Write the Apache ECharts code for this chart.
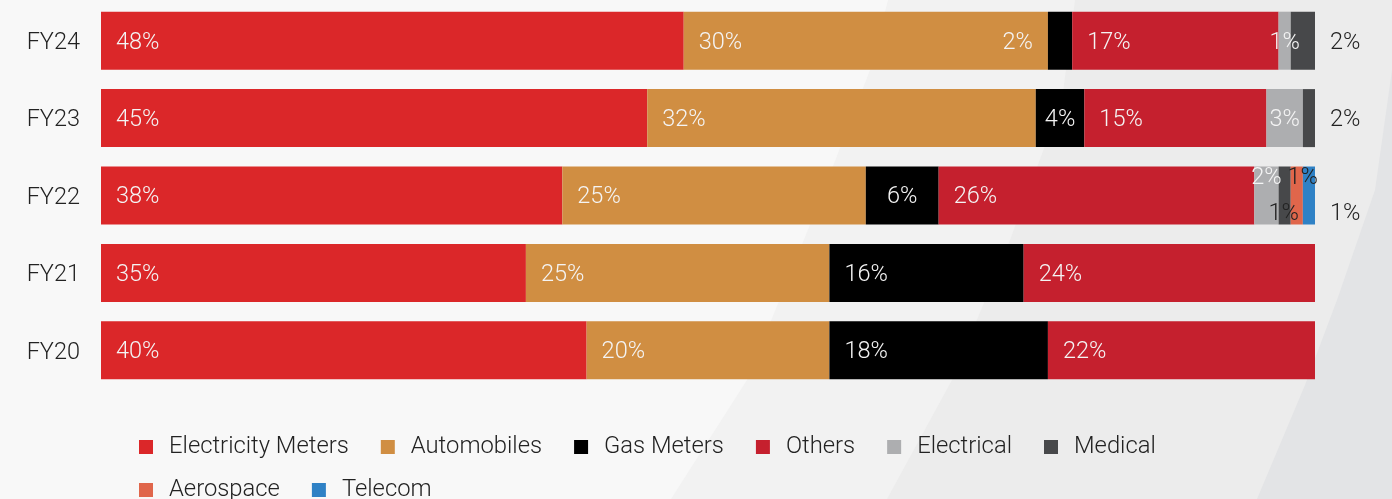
<!DOCTYPE html>
<html>
<head>
<meta charset="utf-8">
<script src="https://cdn.jsdelivr.net/npm/echarts@6/dist/echarts.min.js"></script>
<style>
  html, body { margin: 0; padding: 0; background: #f8f8f8; }
  #chart { width: 1392px; height: 499px; }
</style>
</head>
<body>
<div id="chart"></div>
<script>
// ---- data ----
var categories = ['FY24', 'FY23', 'FY22', 'FY21', 'FY20'];
var seriesNames = ['Electricity Meters', 'Automobiles', 'Gas Meters', 'Others', 'Electrical', 'Medical', 'Aerospace', 'Telecom'];
var electricityMeters = [48, 45, 38, 35, 40];
var automobiles      = [30, 32, 25, 25, 20];
var gasMeters        = [2, 4, 6, 16, 18];
var others           = [17, 15, 26, 24, 22];
var electrical       = [1, 3, 2, '-', '-'];
var medical          = [2, 2, 1, '-', '-'];
var aerospace        = ['-', '-', 1, '-', '-'];
var telecom          = ['-', '-', 1, '-', '-'];

// ---- styles ----
var colors = ['#DB2729', '#D08E42', '#000000', '#C5202E', '#ADAEB0', '#47484A', '#E0664B', '#2F81C5'];
var FONT = 'Roboto';
var WHITE = '#f4f4f4';
var DARK = '#222222';
var FS = 23.5;

// label placement overrides (styling only)
var labelOverrides = {
  'Gas Meters|FY24': { position: 'left', distance: 15 },
  'Electrical|FY24': { position: 'inside' },
  'Medical|FY24':    { position: 'right', distance: 15, color: DARK },
  'Gas Meters|FY23': { position: 'inside' },
  'Electrical|FY23': { position: 'inside' },
  'Medical|FY23':    { position: 'right', distance: 15, color: DARK },
  'Gas Meters|FY22': { position: 'inside' },
  'Electrical|FY22': { position: 'inside', offset: [0, -17] },
  'Medical|FY22':    { position: 'inside', offset: [-1, 19], color: DARK },
  'Aerospace|FY22':  { position: 'inside', offset: [6, -17], color: DARK },
  'Telecom|FY22':    { position: 'right', distance: 15, offset: [0, 19], color: DARK }
};

var seriesValues = [electricityMeters, automobiles, gasMeters, others, electrical, medical, aerospace, telecom];

var series = seriesValues.map(function (vals, si) {
  var name = seriesNames[si];
  return {
    name: name,
    type: 'bar',
    stack: 'total',
    barWidth: 58,
    itemStyle: { color: colors[si] },
    label: {
      show: true,
      position: 'insideLeft',
      distance: 15,
      offset: [0, 2],
      formatter: '{c}%',
      color: WHITE,
      fontFamily: FONT,
      fontWeight: 300,
      fontSize: FS
    },
    emphasis: { disabled: true },
    data: vals.map(function (v, ci) {
      var ov = labelOverrides[name + '|' + categories[ci]];
      if (ov && v !== '-') return { value: v, label: ov };
      return v;
    })
  };
});

var legendCommon = {
  orient: 'horizontal',
  icon: 'rect',
  itemWidth: 14,
  itemHeight: 14,
  itemGap: 32,
  padding: 0,
  selectedMode: false,
  textStyle: {
    fontFamily: FONT,
    fontWeight: 300,
    fontSize: 23.8,
    color: '#222',
    lineHeight: 26,
    padding: [2, 0, 0, 11]
  }
};

var bg = [
  { pts: [[888, 0], [1392, 0], [1392, 499], [671, 499], [747, 380], [820, 200], [870, 70]], fill: '#f2f2f2' },
  { pts: [[1075, 0], [1392, 0], [1392, 499], [887, 499], [952, 380], [1010, 240], [1062, 100]], fill: '#ececec' },
  { pts: [[1392, 70], [1392, 499], [1257, 499], [1305, 385], [1337, 300], [1375, 190]], fill: '#e3e4e6' }
];

var option = {
  backgroundColor: '#f8f8f8',
  animation: false,
  graphic: bg.map(function (b) {
    return { type: 'polygon', z: -10, silent: true, shape: { points: b.pts }, style: { fill: b.fill } };
  }),
  grid: { left: 101, right: 77, top: 2, bottom: 110, containLabel: false },
  xAxis: {
    type: 'value',
    min: 0,
    max: 100,
    show: false
  },
  yAxis: {
    type: 'category',
    inverse: true,
    data: categories,
    axisLine: { show: false },
    axisTick: { show: false },
    splitLine: { show: false },
    axisLabel: {
      margin: 21,
      formatter: '{v|{value}}',
      rich: {
        v: {
          color: '#222',
          fontFamily: FONT,
          fontWeight: 300,
          fontSize: FS,
          padding: [5, 0, 0, 0]
        }
      }
    }
  },
  legend: [
    Object.assign({}, legendCommon, { left: 139, top: 433, data: seriesNames.slice(0, 6) }),
    Object.assign({}, legendCommon, { left: 139, top: 476, data: seriesNames.slice(6) })
  ],
  series: series
};

var chart = echarts.init(document.getElementById('chart'), null, { renderer: 'canvas' });
chart.setOption(option);
</script>
</body>
</html>
